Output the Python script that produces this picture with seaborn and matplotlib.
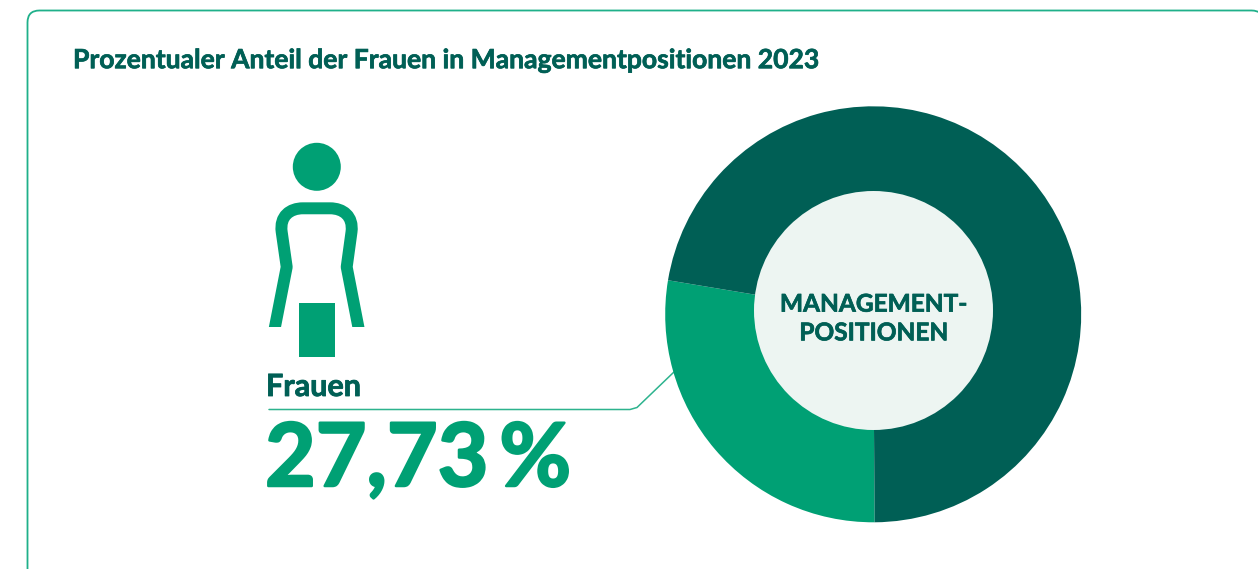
import matplotlib
matplotlib.use("Agg")
import matplotlib.pyplot as plt
import matplotlib.patheffects as pe
import seaborn as sns
from matplotlib.patches import FancyBboxPatch, Circle, Rectangle, PathPatch
from matplotlib.path import Path

labels = ["Frauen", "Männer"]
shares = [27.73, 72.27]
palette = ["#00A074", "#005F55"]
title = "Prozentualer Anteil der Frauen in Managementpositionen 2023"
center_label = "MANAGEMENT-\nPOSITIONEN"
value_label = "27,73\u2009%"

sns.set_theme(style="white")
plt.rcParams["font.family"] = ["Lato", "DejaVu Sans"]

W, H = 1258, 569
fig = plt.figure(figsize=(W / 100, H / 100), dpi=100, facecolor="white")
bg = fig.add_axes([0, 0, 1, 1])
bg.set_xlim(0, W)
bg.set_ylim(H, 0)
bg.axis("off")

DARK, GREEN = palette[1], palette[0]


def heavy(color, width):
    return [pe.withStroke(linewidth=width, foreground=color)]


bg.add_patch(FancyBboxPatch((27.5, 10.5), 1236, 640, boxstyle="round,pad=0,rounding_size=12",
                            fc="white", ec="#1FB08A", lw=1.3))
bg.text(73, 60.2, title, color=DARK, fontsize=19.08, fontweight="bold", va="center", ha="left",
        path_effects=heavy(DARK, 0.5))

# Person icon
bg.add_patch(Circle((316.8, 166.8), 24, fc=GREEN, ec="none"))
bg.add_patch(Rectangle((299, 303), 35.5, 53.5, fc=GREEN, ec="none"))
body = Path(
    [(273, 337), (286.7, 267), (281.7, 232),
     (279.5, 216), (290, 208.3), (303, 208.3),
     (330, 208.3),
     (343, 208.3), (353.5, 216), (351.5, 232),
     (346.7, 267), (360.3, 337)],
    [Path.MOVETO, Path.LINETO, Path.LINETO,
     Path.CURVE4, Path.CURVE4, Path.CURVE4,
     Path.LINETO,
     Path.CURVE4, Path.CURVE4, Path.CURVE4,
     Path.LINETO, Path.LINETO],
)
body_patch = PathPatch(body, fc="none", ec=GREEN, lw=8.6, capstyle="butt", joinstyle="round")
bg.add_patch(body_patch)
body_patch.set_clip_path(Rectangle((250, 190), 130, 136.7, transform=bg.transData))

bg.text(266, 387, labels[0], color=DARK, fontsize=22, fontweight="bold", va="center", ha="left",
        path_effects=heavy(DARK, 0.6))
bg.text(265, 460.5, value_label, color=GREEN, fontsize=63, fontweight="bold", va="center", ha="left",
        path_effects=heavy(GREEN, 1.8))

# Leader line
bg.plot([269, 630, 637, 675], [409.5, 409.5, 407.5, 371], color="#2DB38E", lw=1.1,
        solid_joinstyle="round")

# Donut
cx, cy, r = 873.2, 314.3, 208
px = 1 / r
pie_ax = fig.add_axes([(cx - r) / W, 1 - (cy + r) / H, 2 * r / W, 2 * r / H])
pie_ax.pie(shares, colors=palette, startangle=-89.6, counterclock=False, radius=1,
           wedgeprops=dict(linewidth=0))
pie_ax.set_xlim(-1, 1)
pie_ax.set_ylim(-1, 1)
pie_ax.add_patch(Circle((0.3 * px, 3.8 * px), 119.5 * px, fc="#EDF5F2", ec="none"))
pie_ax.text(0.5 * px, -4.2 * px, center_label, color=DARK, fontsize=17.6, fontweight="bold",
            ha="center", va="center", linespacing=1.3, path_effects=heavy(DARK, 0.5))

fig.savefig("out.png", dpi=100)
